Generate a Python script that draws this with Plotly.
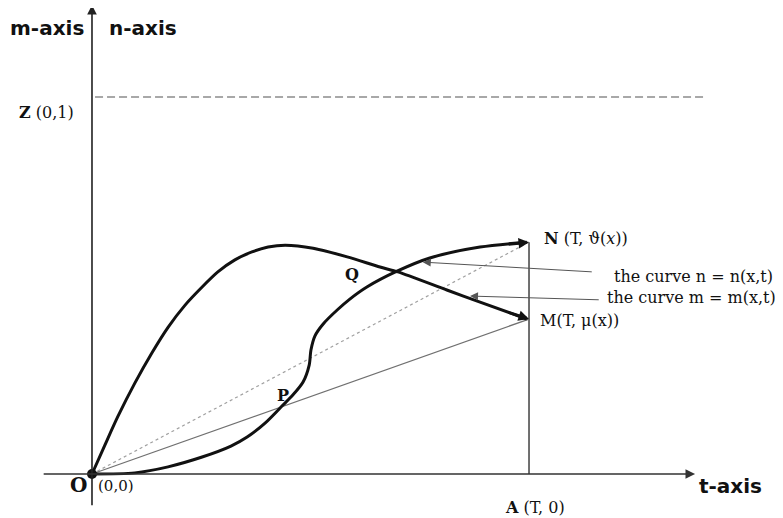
import plotly.graph_objects as go

# ---- data (t in units of T, value in units of Z) ----
m_t = [0.0, 0.030, 0.059, 0.098, 0.137, 0.174, 0.213, 0.252, 0.288, 0.327, 0.366, 0.403, 0.442,
       0.506, 0.584, 0.659, 0.700, 0.812, 0.888, 0.995]
m_v = [0.0, 0.078, 0.152, 0.241, 0.321, 0.389, 0.448, 0.496, 0.536, 0.568, 0.589, 0.602, 0.607,
       0.599, 0.576, 0.549, 0.536, 0.488, 0.456, 0.411]

n_t = [0.0, 0.098, 0.174, 0.252, 0.318, 0.355, 0.396, 0.437, 0.460, 0.483, 0.497, 0.501, 0.510,
       0.529, 0.561, 0.590, 0.629, 0.698, 0.773, 0.888, 0.995]
n_v = [0.0, 0.003, 0.019, 0.045, 0.074, 0.098, 0.135, 0.183, 0.210, 0.244, 0.289, 0.329, 0.366,
       0.398, 0.435, 0.464, 0.496, 0.538, 0.573, 0.602, 0.615]

T = 1.0
Z = 1.0
theta_T = n_v[-1]
mu_T = m_v[-1]

SERIF = "DejaVu Serif"
SANS = "DejaVu Sans"

fig = go.Figure()

# dashed level line n = 1
fig.add_trace(go.Scatter(x=[0.007, 1.406], y=[Z, Z], mode="lines",
                         line=dict(color="#a8a8a8", width=2, dash="8px,4px"), hoverinfo="skip"))
# vertical line at t = T
fig.add_trace(go.Scatter(x=[T, T], y=[0, theta_T], mode="lines",
                         line=dict(color="#111", width=1.2), hoverinfo="skip"))
# chords from origin
fig.add_trace(go.Scatter(x=[0, T], y=[0, theta_T], mode="lines",
                         line=dict(color="#a0a0a0", width=1.2, dash="dot"), hoverinfo="skip"))
fig.add_trace(go.Scatter(x=[0, T], y=[0, mu_T], mode="lines",
                         line=dict(color="#707070", width=1.2), hoverinfo="skip"))
# curves
fig.add_trace(go.Scatter(x=m_t, y=m_v, mode="lines",
                         line=dict(color="#111", width=3, shape="spline", smoothing=0.7), hoverinfo="skip"))
fig.add_trace(go.Scatter(x=n_t, y=n_v, mode="lines",
                         line=dict(color="#111", width=3, shape="spline", smoothing=0.8), hoverinfo="skip"))
# origin dot
fig.add_trace(go.Scatter(x=[0], y=[0], mode="markers",
                         marker=dict(color="#111", size=10), hoverinfo="skip"))

ann = []
def arrow(x, y, ax, ay, color="#111", width=1.5, size=1.0, head=2):
    ann.append(dict(x=x, y=y, ax=ax, ay=ay, xref="x", yref="y", axref="x", ayref="y",
                    showarrow=True, arrowhead=head, arrowsize=size, arrowwidth=width,
                    arrowcolor=color, text=""))

# axes with arrows
arrow(0, 1.244, 0, -0.087, color="#222", width=1.6, size=1.2)
arrow(1.380, 0, -0.114, 0, color="#333", width=1.6, size=1.2)
# curve end arrowheads
arrow(T, theta_T, 0.95, 0.609, width=3, size=0.7)
arrow(T, mu_T, 0.95, 0.430, width=3, size=0.7)
# pointer arrows
arrow(0.757, 0.562, 1.147, 0.536, color="#555", width=1.0, size=1.6)
arrow(0.865, 0.472, 1.163, 0.462, color="#555", width=1.0, size=1.6)

def label(x, y, text, font=SERIF, size=16, bold=False, xanchor="center"):
    if bold:
        text = "<b>" + text + "</b>"
    ann.append(dict(x=x, y=y, xref="x", yref="y", text=text, showarrow=False,
                    xanchor=xanchor, yanchor="middle",
                    font=dict(family=font, size=size, color="#111")))

label(-0.103, 1.183, "m-axis", font=SANS, size=20, bold=True)
label(0.117, 1.183, "n-axis", font=SANS, size=20, bold=True)
label(-0.103, 0.960, "<b>Z</b> (0,1)", size=16)
label(1.030, 0.626, "<b>N</b> (T, ϑ(<i>x</i>))", size=16, xanchor="left")
label(1.190, 0.525, "the curve n = n(x,t)", size=16, xanchor="left")
label(1.174, 0.467, "the curve m = m(x,t)", size=16, xanchor="left")
label(1.021, 0.406, "M(T, μ(x))", size=16, xanchor="left")
label(0.595, 0.530, "Q", size=16, bold=True)
label(0.438, 0.207, "P", size=16, bold=True)
label(-0.032, -0.030, "O", size=20, bold=True)
label(0.010, -0.032, "(0,0)", size=15, xanchor="left")
label(1.014, -0.088, "<b>A</b> (T, 0)", size=16)
label(1.384, -0.032, "t-axis", font=SANS, size=20, bold=True, xanchor="left")

fig.update_layout(
    width=775, height=510,
    margin=dict(l=0, r=0, t=0, b=0),
    paper_bgcolor="white", plot_bgcolor="white",
    showlegend=False,
    annotations=ann,
    xaxis=dict(range=[-0.1922, 1.5812], visible=False, fixedrange=True),
    yaxis=dict(range=[-0.1167, 1.2361], visible=False, fixedrange=True),
)

fig.write_html("out.html")
